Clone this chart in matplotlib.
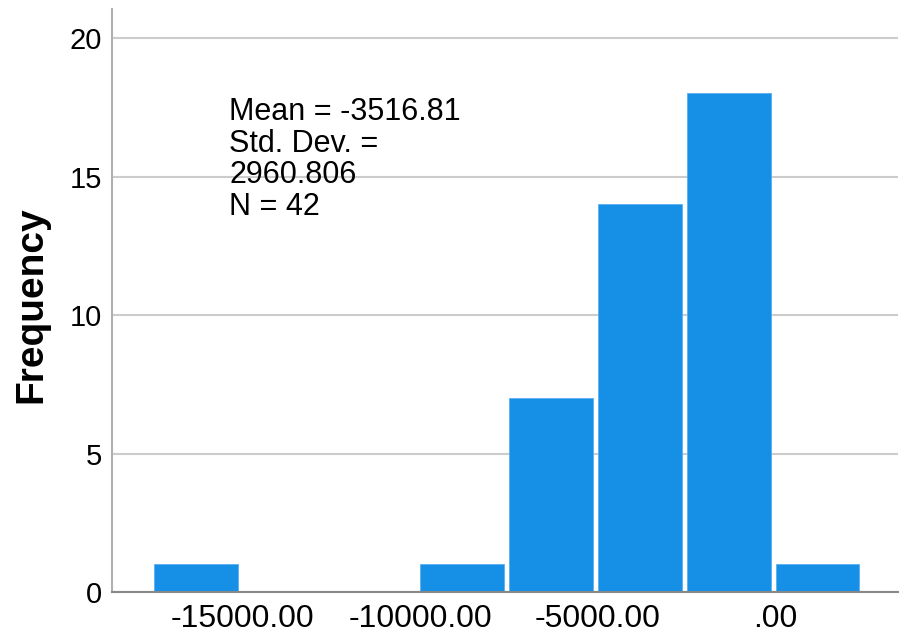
import matplotlib
matplotlib.use("Agg")
import matplotlib.pyplot as plt

# Histogram of the differences (counts per 2500-wide bin)
bin_left_edges = [-17500, -15000, -12500, -10000, -7500, -5000, -2500, 0]
bin_width = 2500
counts = [1, 0, 0, 1, 7, 14, 18, 1]

x_tick_values = [-15000, -10000, -5000, 0]
x_tick_labels = ["-15000.00", "-10000.00", "-5000.00", ".00"]
y_tick_values = [0, 5, 10, 15, 20]

stats_lines = ["Mean = -3516.81", "Std. Dev. =", "2960.806", "N = 42"]

plt.rcParams["font.family"] = ["Liberation Sans", "DejaVu Sans"]

fig = plt.figure(figsize=(9.0, 6.36), dpi=100)
ax = fig.add_axes([0.1244, 0.0692, 0.8736, 0.9166])

ax.set_axisbelow(True)
ax.yaxis.grid(True, color="#cccccc", linewidth=1.5)

ax.bar(bin_left_edges, counts, width=bin_width * 0.944, align="edge",
       color="#1690e6", edgecolor="#5aaef0", linewidth=0.6)

ax.set_xlim(-18680, 3450)
ax.set_ylim(0, 21.05)

ax.set_xticks(x_tick_values)
ax.set_xticklabels(x_tick_labels)
ax.set_yticks(y_tick_values)
ax.tick_params(axis="both", length=0, colors="black")
ax.tick_params(axis="x", labelsize=23, pad=9)
ax.tick_params(axis="y", labelsize=21, pad=7)

for side in ("top", "right"):
    ax.spines[side].set_visible(False)
ax.spines["left"].set_color("#b0b0b0")
ax.spines["left"].set_linewidth(1.5)
ax.spines["bottom"].set_color("#888888")
ax.spines["bottom"].set_linewidth(1.5)

ax.set_ylabel("Frequency", fontsize=28, fontweight="bold")
ax.yaxis.label.set_va("center")
ax.yaxis.set_label_coords(-0.102, 0.492)

ax.text(0.149, 0.849, "\n".join(stats_lines), transform=ax.transAxes,
        ha="left", va="top", fontsize=22, linespacing=1.07)

fig.savefig("out.png", dpi=100)
